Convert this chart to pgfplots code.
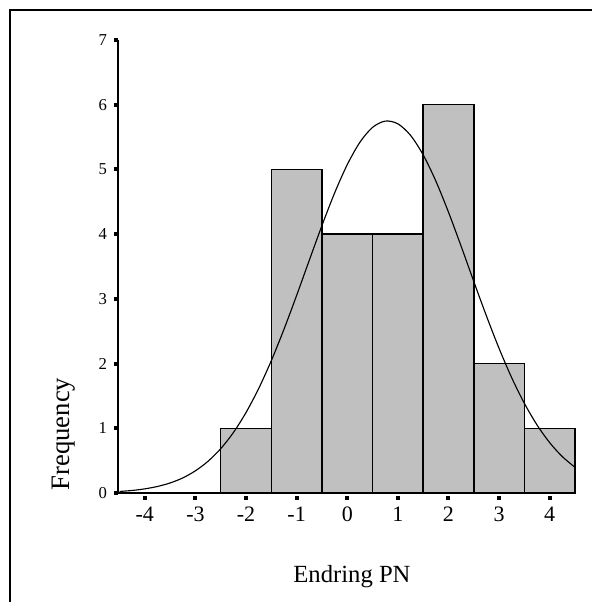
\documentclass[border=0pt]{standalone}
\usepackage{fontspec}
\setmainfont{Liberation Serif}
\usepackage{pgfplots}
\pgfplotsset{compat=1.18}
\definecolor{bargray}{RGB}{192,192,192}
\begin{document}
\begin{tikzpicture}
\useasboundingbox (-88.5pt,-81.75pt) rectangle (355.5pt,369.75pt);
\draw[line width=1.5pt] (-80.625pt,-81.75pt) -- (-80.625pt,361.875pt) -- (355.5pt,361.875pt);
\begin{axis}[
  scale only axis,
  width=342.75pt, height=339.75pt,
  xmin=-4.53, xmax=4.5, ymin=0, ymax=7,
  axis x line=bottom, axis y line=left,
  axis line style={-, line width=1.1pt},
  xtick={-4,-3,-2,-1,0,1,2,3,4},
  xticklabels={-4,-3,-2,-1,0,1,2,3,4},
  ytick={0,1,2,3,4,5,6,7},
  yticklabels={0,1,2,3,4,5,6,7},
  tick align=outside,
  major tick length=3pt,
  xtick style={line width=3pt, yshift=-2pt, black},
  ytick style={line width=3pt, black},
  xticklabel style={font=\fontsize{16.5}{18}\selectfont, inner sep=0pt, anchor=north, yshift=-7pt},
  yticklabel style={font=\fontsize{12.5}{14}\selectfont, inner sep=0pt, anchor=east, xshift=-5pt},
  xlabel={Endring PN},
  ylabel={Frequency},
  xlabel style={font=\fontsize{18.5}{20}\selectfont, at={(axis description cs:0.512,-0.185)}, anchor=center},
  ylabel style={font=\fontsize{20}{22}\selectfont, at={(axis description cs:-0.118,0.13)}, anchor=center, rotate=0},
  clip=false,
]
\addplot[ybar interval, fill=bargray, draw=black, line width=1.1pt]
  coordinates {(-2.5,1) (-1.5,5) (-0.5,4) (0.5,4) (1.5,6) (2.5,2) (3.5,1) (4.5,1)};
\addplot[black, line width=0.85pt, smooth, no marks] coordinates {
(-4.5,0.024) (-4.25,0.039) (-4.0,0.064) (-3.75,0.101) (-3.5,0.155) (-3.25,0.233)
(-3.0,0.343) (-2.75,0.491) (-2.5,0.685) (-2.25,0.934) (-2.0,1.244) (-1.75,1.615)
(-1.5,2.046) (-1.25,2.531) (-1.0,3.054) (-0.75,3.597) (-0.5,4.133) (-0.25,4.636)
(0,5.074) (0.25,5.420) (0.5,5.650) (0.75,5.747) (1.0,5.705) (1.25,5.527)
(1.5,5.225) (1.75,4.821) (2.0,4.340) (2.25,3.813) (2.5,3.269) (2.75,2.736)
(3.0,2.234) (3.25,1.780) (3.5,1.385) (3.75,1.051) (4.0,0.778) (4.25,0.562) (4.5,0.397)};
\end{axis}
\end{tikzpicture}
\end{document}
